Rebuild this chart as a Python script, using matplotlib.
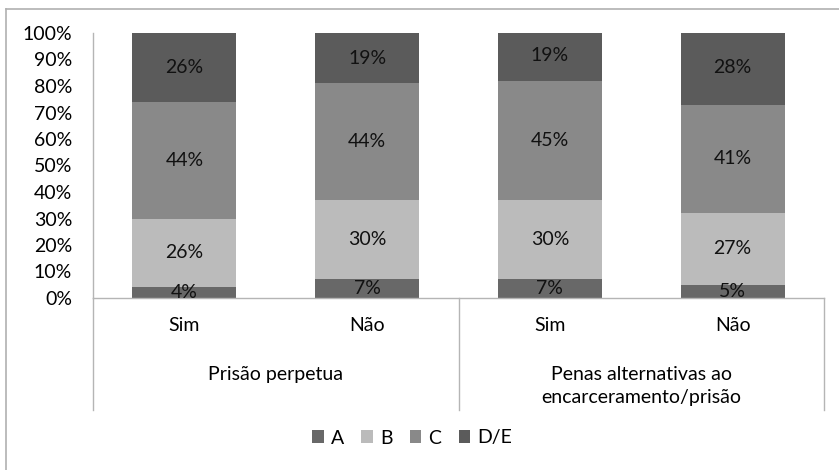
import matplotlib.pyplot as plt
import numpy as np

plt.rcParams['font.family'] = ['Lato', 'DejaVu Sans']

categories = ['Sim', 'Não', 'Sim', 'Não']
groups = ['Prisão perpetua', 'Penas alternativas ao\nencarceramento/prisão']
series = ['A', 'B', 'C', 'D/E']
a_vals = [4, 7, 7, 5]
b_vals = [26, 30, 30, 27]
c_vals = [44, 44, 45, 41]
de_vals = [26, 19, 19, 28]
colors = ['#686868', '#bbbbbb', '#898989', '#5b5b5b']

FS = 14

fig = plt.figure(figsize=(8.39, 4.70), dpi=100)
ax = fig.add_axes([93 / 839, 1 - 298 / 470, (824 - 93) / 839, (298 - 33) / 470])

x = np.arange(len(categories))
bottom = np.zeros(len(categories))
for name, vals, col in zip(series, [a_vals, b_vals, c_vals, de_vals], colors):
    vals = np.array(vals, dtype=float)
    ax.bar(x, vals, 0.57, bottom=bottom, color=col, label=name)
    for xi, b, v in zip(x, bottom, vals):
        ax.text(xi, b + v / 2, f'{int(v)}%', ha='center', va='center',
                fontsize=FS, color='#111111')
    bottom += vals

ax.set_xlim(-0.5, 3.5)
ax.set_ylim(0, 100)
ax.set_yticks(range(0, 101, 10))
ax.set_yticklabels([f'{t}%' for t in range(0, 101, 10)], fontsize=FS)
ax.tick_params(axis='y', length=0, pad=15)
ax.set_xticks([])
for s in ['top', 'right']:
    ax.spines[s].set_visible(False)
for s in ['left', 'bottom']:
    ax.spines[s].set_color('#b5b5b5')
    ax.spines[s].set_linewidth(1)

# category labels and group labels under the axis
trans = ax.get_xaxis_transform()
for xi, c in zip(x, categories):
    ax.text(xi, -0.103, c, transform=trans, ha='center', va='center', fontsize=FS)
for gi, g in enumerate(groups):
    ax.text(gi * 2 + 0.5, -0.255, g, transform=trans, ha='center', va='top',
            fontsize=FS, linespacing=1.45)

# separators between groups
for xs in [-0.5, 1.5, 3.5]:
    ax.plot([xs, xs], [0, -0.423], transform=trans, color='#b5b5b5', lw=1,
            clip_on=False)

# outer chart border
fig.add_artist(plt.Line2D([6 / 839, 1.0], [1 - 9 / 470] * 2, color='#b0b0b0', lw=1.2))
fig.add_artist(plt.Line2D([6 / 839] * 2, [0, 1 - 9 / 470], color='#b0b0b0', lw=1.2))

fig.legend(loc='center', bbox_to_anchor=(412 / 839, 1 - 438 / 470), ncol=4,
           frameon=False, fontsize=FS, handlelength=0.6, handleheight=0.6,
           handletextpad=0.35, columnspacing=0.9)

fig.savefig('out.png', dpi=100)
